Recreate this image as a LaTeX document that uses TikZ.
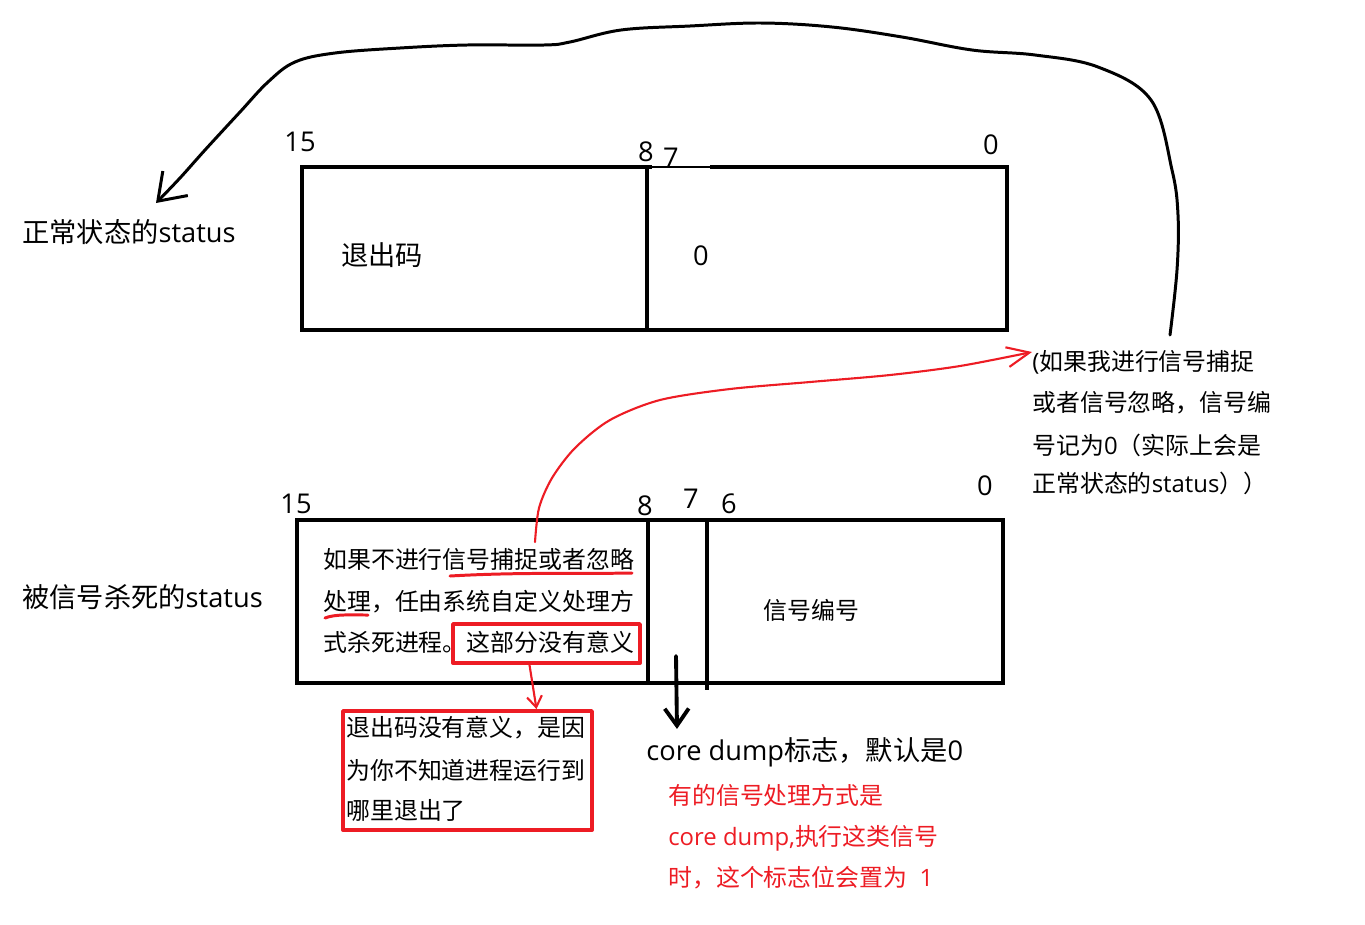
\documentclass[tikz,border=0pt]{standalone}
\usepackage{fontspec}
\setmainfont{Open Sans}
\newfontfamily\cjk{Noto Sans CJK SC}
\usetikzlibrary{arrows.meta}
\definecolor{penred}{RGB}{237,28,36}

\tikzset{
  bigtxt/.style={inner sep=0pt, anchor=west, font=\fontsize{15.5}{18}\selectfont},
  smalltxt/.style={inner sep=0pt, anchor=west, font=\fontsize{13.6}{16}\selectfont},
  redtxt/.style={smalltxt, text=penred},
  bitnum/.style={inner sep=0pt, font=\fontsize{15.5}{18}\selectfont},
  frame/.style={line width=2.8pt, line join=miter, line cap=rect},
  redbox/.style={draw=penred, line width=2.2pt, inner sep=0pt},
  pen/.style={line width=1.7pt},
  redpen/.style={draw=penred, line width=1.2pt},
}

\begin{document}
\begin{tikzpicture}[line cap=round,line join=round,x=0.02cm,y=-0.02cm]
\useasboundingbox (0,0) rectangle (1365,924);

% status of a normal exit
\draw[frame] (650,167) -- (302,167) -- (302,330) -- (1007,330) -- (1007,167) -- (712,167);
\draw[line width=1pt] (650,167) -- (712,167);
\draw[frame] (647,167) -- (647,330);
\node[bitnum] (t15) at (300,142) {15};
\node[bitnum] (t8) at (646,152) {8};
\node[bitnum] (t7) at (671,158) {7};
\node[bitnum] (t0) at (991,145) {0};
\node[bigtxt] (exitcode) at (341,255) {\cjk 退出码};
\node[bitnum] (zero) at (701,256) {0};
\node[bigtxt] (normal) at (22,232) {{\cjk 正常状态的}status};

% status of a killed process
\draw[frame] (297,520) rectangle (1003,683);
\draw[frame] (648,520) -- (648,683);
\draw[frame] (707,520) -- (707,688);
\node[bitnum] (b15) at (296,504) {15};
\node[bitnum] (b8) at (645,506) {8};
\node[bitnum] (b7) at (691,499) {7};
\node[bitnum] (b6) at (729,504) {6};
\node[bitnum] (b0) at (985,486) {0};
\node[bigtxt] (killed) at (22,597) {{\cjk 被信号杀死的}status};
\node[smalltxt] (why1) at (323,559) {\cjk 如果不进行信号捕捉或者忽略};
\node[smalltxt] (why2) at (323,602) {\cjk 处理，任由系统自定义处理方};
\node[smalltxt] (why3) at (323,642) {\cjk 式杀死进程。这部分没有意义};
\node[smalltxt] (signum) at (763,610) {\cjk 信号编号};
\draw[redpen, line width=1.7pt] (450,576) .. controls (520,572) and (580,574) .. (632,573);
\draw[redpen, line width=1.7pt] (325,618) .. controls (335,614) and (350,615) .. (368,615);
\node[redbox, minimum width=3.74cm, minimum height=0.78cm] (nomean) at (546.5,643.5) {};

% exit code note
\node[redbox, minimum width=4.98cm, minimum height=2.38cm] (exitbox) at (467.5,770.5) {};
\node[smalltxt] (exit1) at (346,728) {\cjk 退出码没有意义，是因};
\node[smalltxt] (exit2) at (346,770) {\cjk 为你不知道进程运行到};
\node[smalltxt] (exit3) at (346,810) {\cjk 哪里退出了};
\draw[redpen, -{Straight Barb[length=0.22cm,width=0.3cm]}] ([xshift=-0.34cm]nomean.south) -- ([xshift=1.38cm]exitbox.north);

% core dump flag
\coordinate (cdflag) at (676,656);
\node[bigtxt] (cdlbl) at (646,752) {core dump{\cjk 标志，默认是}0};
\node[redtxt] (cd1) at (668,795) {\cjk 有的信号处理方式是};
\node[redtxt] (cd2) at (668,838) {core dump,{\cjk 执行这类信号}};
\node[redtxt] (cd3) at (668,878) {{\cjk 时，这个标志位会置为}\ \ 1};
\draw[pen, line width=2.2pt, -{Straight Barb[length=0.34cm,width=0.48cm]}] (cdflag) -- ([xshift=0.62cm,yshift=0.16cm]cdlbl.north west);

% caught or ignored signal
\node[smalltxt] (note1) at (1032,362) {({\cjk 如果我进行信号捕捉}};
\node[smalltxt] (note2) at (1032,403) {\cjk 或者信号忽略，信号编};
\node[smalltxt] (note3) at (1032,445) {{\cjk 号记为}0{\cjk （实际上会是}};
\node[smalltxt] (note4) at (1032,483) {{\cjk 正常状态的}status{\cjk ））}};
\coordinate (capture) at (535,542);
\coordinate (notetip) at ([yshift=0.2cm]note1.west);
\draw[redpen, -{Straight Barb[length=0.45cm,width=0.4cm]}] plot[smooth] coordinates {(capture) (539,508) (552,478) (575,448) (610,420) (660,400) (730,389) (810,382) (890,375) (960,366) (notetip)};

\coordinate (loopstart) at (1170,335);
\coordinate (looptip) at (156,203);
\draw[pen, -{Straight Barb[length=0.5cm,width=0.7cm]}] plot[smooth, tension=0.6] coordinates {(loopstart) (1177,270) (1178,215) (1172,170) (1151,100) (1098,67) (1035,55) (972,50) (902,37) (832,27) (761,23) (690,26) (621,30) (570,42) (544,45) (467,45) (400,48) (335,53) (295,62) (268,82) (240,112) (205,150) (180,178) (looptip)};
\end{tikzpicture}
\end{document}
